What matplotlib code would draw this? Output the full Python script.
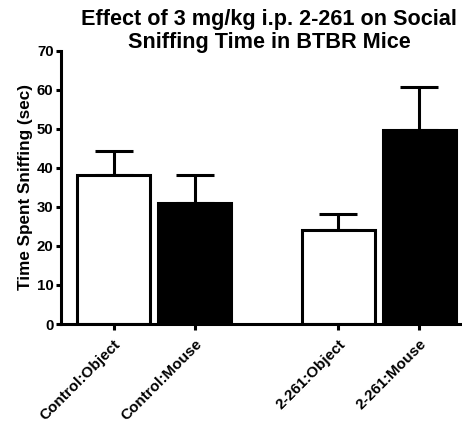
import numpy as np
import matplotlib
matplotlib.use('Agg')
import matplotlib.pyplot as plt

plt.rcParams['font.family'] = ['Liberation Sans', 'DejaVu Sans']
plt.rcParams['font.weight'] = 'bold'

# data
labels = ['Control:Object', 'Control:Mouse', '2-261:Object', '2-261:Mouse']
means = [38.3, 30.9, 24.1, 49.7]
sem = [6.1, 7.4, 4.1, 10.9]
colors = ['white', 'black', 'white', 'black']
xpos = [0, 1, 2.77, 3.77]

fig = plt.figure(figsize=(4.62, 4.23), dpi=100)
ax = fig.add_axes([0.132, 0.234, 0.868, 0.646])

lw = 2.2
ax.bar(xpos, means, width=0.9, color=colors, edgecolor='black', linewidth=lw, zorder=2)
ax.errorbar(xpos, means, yerr=[np.zeros(len(sem)), sem], fmt='none', ecolor='black',
            elinewidth=lw, capsize=13.5, capthick=lw, zorder=1)

ax.set_xlim(-0.65, 4.3)
ax.set_ylim(0, 70)
ax.set_yticks(np.arange(0, 71, 10))
ax.set_xticks(xpos)
ax.set_xticklabels(labels, rotation=45, ha='right', rotation_mode='anchor',
                   fontsize=11, fontweight='bold')
for t in ax.get_yticklabels():
    t.set_fontsize(10.8)
    t.set_fontweight('bold')
ax.tick_params(axis='y', width=lw, length=3.8, direction='out', pad=1.5)
ax.tick_params(axis='x', width=lw, length=4.5, direction='out', pad=5)

for s in ['top', 'right']:
    ax.spines[s].set_visible(False)
for s in ['left', 'bottom']:
    ax.spines[s].set_linewidth(lw)

ax.set_ylabel('Time Spent Sniffing (sec)', fontsize=12.3, fontweight='bold', labelpad=3)
fig.text(0.583, 0.978, 'Effect of 3 mg/kg i.p. 2-261 on Social\nSniffing Time in BTBR Mice',
         ha='center', va='top', fontsize=15.6, fontweight='bold', linespacing=1.1)

fig.savefig('out.png', dpi=100)
